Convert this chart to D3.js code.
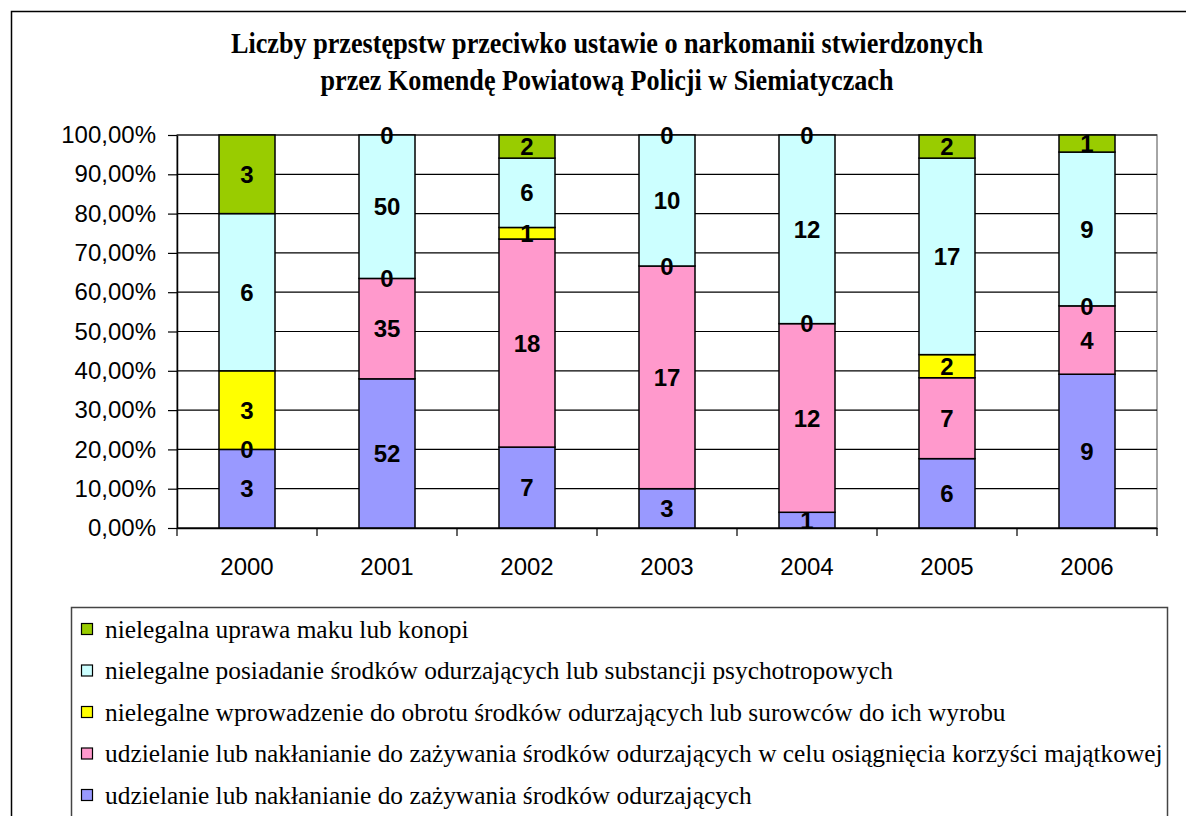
<!DOCTYPE html>
<html>
<head>
<meta charset="utf-8">
<script src="https://cdn.jsdelivr.net/npm/d3@7"></script>
<style>
  body { margin: 0; background: #fff; }
  svg { display: block; }
</style>
</head>
<body>
<svg id="chart"></svg>
<script>
// data, bottom series first
var years = ["2000", "2001", "2002", "2003", "2004", "2005", "2006"];
var seriesNames = [
  "udzielanie lub nakłanianie do zażywania środków odurzających",
  "udzielanie lub nakłanianie do zażywania środków odurzających w celu osiągnięcia korzyści majątkowej",
  "nielegalne wprowadzenie do obrotu środków odurzających lub surowców do ich wyrobu",
  "nielegalne posiadanie środków odurzających lub substancji psychotropowych",
  "nielegalna uprawa maku lub konopi"
];
var udzielanie = [3, 52, 7, 3, 1, 6, 9];
var udzielanieKorzysc = [0, 35, 18, 17, 12, 7, 4];
var wprowadzenie = [3, 0, 1, 0, 0, 2, 0];
var posiadanie = [6, 50, 6, 10, 12, 17, 9];
var uprawa = [3, 0, 2, 0, 0, 2, 1];
var seriesColors = ["#9999FF", "#FF99CC", "#FFFF00", "#CCFFFF", "#99CC00"];
var titleLines = [
  "Liczby przestępstw przeciwko ustawie o narkomanii stwierdzonych",
  "przez Komendę Powiatową Policji w Siemiatyczach"
];

var allSeries = [udzielanie, udzielanieKorzysc, wprowadzenie, posiadanie, uprawa];
var rows = years.map(function(y, i) {
  var r = { year: y };
  seriesNames.forEach(function(n, k) { r[n] = allSeries[k][i]; });
  return r;
});

var svgWidth = 1186, svgHeight = 816;
var svg = d3.select("#chart").attr("width", svgWidth).attr("height", svgHeight);

// outer chart frame
svg.append("rect")
  .attr("x", 11.5).attr("y", 11.5)
  .attr("width", 1250).attr("height", 900)
  .attr("fill", "#fff").attr("stroke", "#000").attr("stroke-width", 1.5);

// title
svg.selectAll("text.title")
  .data(titleLines)
  .enter()
  .append("text")
  .attr("class", "title")
  .attr("x", 607)
  .attr("y", function(d, i) { return 53 + i * 37; })
  .attr("text-anchor", "middle")
  .attr("font-family", "'Liberation Serif', 'Times New Roman', serif")
  .attr("font-weight", "bold")
  .attr("font-size", 29)
  .attr("textLength", function(d, i) { return i == 0 ? 752 : 573; })
  .attr("lengthAdjust", "spacingAndGlyphs")
  .text(function(d) { return d; });

var plotLeft = 177, plotRight = 1157, plotTop = 135, plotBottom = 528;

var x = d3.scaleBand()
  .domain(years)
  .range([plotLeft, plotRight])
  .paddingInner(0.6)
  .paddingOuter(0.3);

var y = d3.scaleLinear()
  .domain([0, 1])
  .range([plotBottom, plotTop]);

// plot area border (grey)
svg.append("rect")
  .attr("x", plotLeft).attr("y", plotTop)
  .attr("width", plotRight - plotLeft).attr("height", plotBottom - plotTop)
  .attr("fill", "none").attr("stroke", "#888").attr("stroke-width", 1.5);

// gridlines
svg.selectAll("line.grid")
  .data(y.ticks(10))
  .enter()
  .append("line")
  .attr("class", "grid")
  .attr("x1", plotLeft).attr("x2", plotRight)
  .attr("y1", function(d) { return y(d); })
  .attr("y2", function(d) { return y(d); })
  .attr("stroke", "#000").attr("stroke-width", 1.2);

var stack = d3.stack().keys(seriesNames).offset(d3.stackOffsetExpand);
var layers = stack(rows);

var groups = svg.selectAll("g.layer")
  .data(layers)
  .enter()
  .append("g")
  .attr("class", "layer")
  .attr("fill", function(d, i) { return seriesColors[i]; });

groups.selectAll("rect")
  .data(function(d) { return d; })
  .enter()
  .append("rect")
  .attr("x", function(d) { return x(d.data.year); })
  .attr("y", function(d) { return y(d[1]); })
  .attr("width", x.bandwidth())
  .attr("height", function(d) { return y(d[0]) - y(d[1]); })
  .attr("stroke", "#000")
  .attr("stroke-width", 1.5);

// value labels
layers.forEach(function(layer, k) {
  svg.selectAll(null)
    .data(layer)
    .enter()
    .append("text")
    .attr("x", function(d) { return x(d.data.year) + x.bandwidth() / 2; })
    .attr("y", function(d) { return y((d[0] + d[1]) / 2); })
    .attr("dy", "0.36em")
    .attr("text-anchor", "middle")
    .attr("font-family", "'Liberation Sans', Arial, sans-serif")
    .attr("font-weight", "bold")
    .attr("font-size", 24)
    .attr("fill", "#000")
    .text(function(d) { return allSeries[k][years.indexOf(d.data.year)]; });
});

// y axis
var yAxis = d3.axisLeft(y)
  .ticks(10)
  .tickSize(9)
  .tickSizeOuter(0)
  .tickPadding(12)
  .tickFormat(function(d) { return (d * 100).toFixed(2).replace(".", ",") + "%"; });

var gy = svg.append("g")
  .attr("transform", "translate(" + plotLeft + ",0)")
  .call(yAxis);
gy.select(".domain").attr("stroke", "#000").attr("stroke-width", 1.5);
gy.selectAll(".tick line").attr("stroke", "#000").attr("stroke-width", 1.2);
gy.selectAll("text")
  .attr("font-family", "'Liberation Sans', Arial, sans-serif")
  .attr("font-size", 24)
  .attr("fill", "#000");

// x axis
var xAxis = d3.axisBottom(x).tickSize(0).tickSizeOuter(0).tickPadding(30);
var gx = svg.append("g")
  .attr("transform", "translate(0," + plotBottom + ")")
  .call(xAxis);
gx.select(".domain").attr("stroke", "#000").attr("stroke-width", 1.5);
gx.selectAll("text")
  .attr("font-family", "'Liberation Sans', Arial, sans-serif")
  .attr("font-size", 24)
  .attr("fill", "#000");

// tick marks between categories
gx.selectAll("line.sep")
  .data(d3.range(years.length + 1))
  .enter()
  .append("line")
  .attr("class", "sep")
  .attr("x1", function(i) { return plotLeft + i * x.step(); })
  .attr("x2", function(i) { return plotLeft + i * x.step(); })
  .attr("y1", 0).attr("y2", 8)
  .attr("stroke", "#000").attr("stroke-width", 1.2);

// legend
var legendX = 71, legendY = 607;
svg.append("rect")
  .attr("x", legendX + 0.5).attr("y", legendY + 0.5)
  .attr("width", 1096).attr("height", 230)
  .attr("fill", "#fff").attr("stroke", "#444").attr("stroke-width", 1.5);

var legendItems = seriesNames.map(function(n, i) { return { name: n, color: seriesColors[i] }; }).reverse();

var legend = svg.selectAll("g.legend")
  .data(legendItems)
  .enter()
  .append("g")
  .attr("class", "legend")
  .attr("transform", function(d, i) { return "translate(0," + (629 + i * 41.5) + ")"; });

legend.append("rect")
  .attr("x", 81.5).attr("y", -5.5)
  .attr("width", 11).attr("height", 11)
  .attr("fill", function(d) { return d.color; })
  .attr("stroke", "#000").attr("stroke-width", 1.2);

var legendText = legend.append("text")
  .attr("x", 105)
  .attr("dy", "0.35em")
  .attr("font-family", "'Liberation Serif', 'Times New Roman', serif")
  .attr("font-size", 24)
  .attr("fill", "#000")
  .text(function(d) { return d.name; });

// fit the longest legend line to the width seen in the chart
var longest = d3.max(legendText.nodes(), function(n) { return n.getComputedTextLength(); });
var fs = 24 * 1058 / longest;
legendText.attr("font-size", fs);
</script>
</body>
</html>
